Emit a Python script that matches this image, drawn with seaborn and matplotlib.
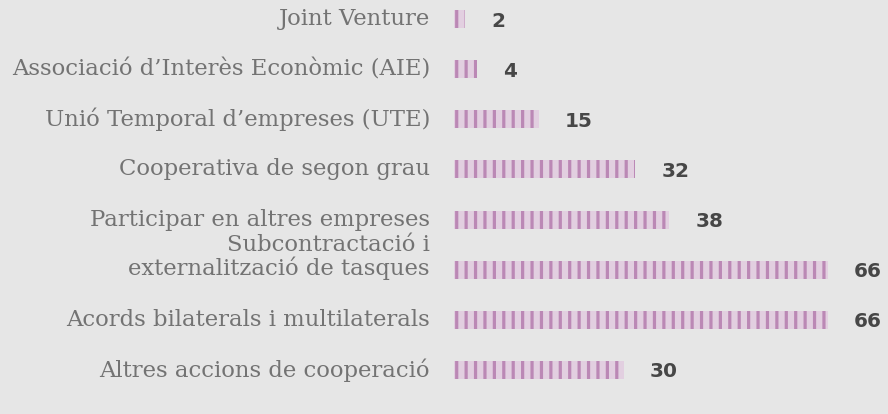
import matplotlib
matplotlib.use('Agg')
import matplotlib.pyplot as plt
import matplotlib.transforms as mtransforms
import seaborn as sns

# chart data
categories = [
    "Joint Venture",
    "Associació d\u2019Interès Econòmic (AIE)",
    "Unió Temporal d\u2019empreses (UTE)",
    "Cooperativa de segon grau",
    "Participar en altres empreses",
    "Subcontractació i\nexternalització de tasques",
    "Acords bilaterals i multilaterals",
    "Altres accions de cooperació",
]
values = [2, 4, 15, 32, 38, 66, 66, 30]

bg = '#e6e6e6'
fill_col = '#e2cfe0'
stripe_col = '#bb88b5'

# dpi picked so the '||' hatch spacing lands near 9.4 px like the original
DPI = 113
W, H = 888, 414


def pt(px):
    return px * 72 / DPI


sns.set_theme(style='white')
plt.rcParams['hatch.linewidth'] = pt(3.2)

fig = plt.figure(figsize=(W / DPI, H / DPI), dpi=DPI, facecolor=bg)
ax = fig.add_axes([454 / W, 0, 1 - 454 / W, 1])
ax.set_facecolor(bg)

sns.barplot(x=values, y=categories, orient='h', color=fill_col, saturation=1,
            width=0.36, hatch='||', edgecolor=stripe_col, linewidth=0, ax=ax)

ax.set_xlim(0, 66 * 434 / 374)
ax.set_ylim(7.88, -0.38)
ax.set_xticks([])
ax.set_yticks([])
for s in ax.spines.values():
    s.set_visible(False)

# value labels
for i, v in enumerate(values):
    ax.annotate(str(v), (v, i), xytext=(pt(26), -pt(2)), textcoords='offset points',
                ha='left', va='center', fontsize=pt(20), fontweight='bold',
                color='#474747', family='DejaVu Sans')

# category labels, right aligned left of the bars
trans = mtransforms.blended_transform_factory(fig.transFigure, ax.transData)
for i, lab in enumerate(categories):
    y = i - 0.25 if '\n' in lab else i
    ax.text(430 / W, y, lab, transform=trans, ha='right', va='center',
            fontsize=pt(22.8), color='#737373', family='DejaVu Serif',
            linespacing=1.0)

fig.savefig('out.png', dpi=DPI, facecolor=bg)
